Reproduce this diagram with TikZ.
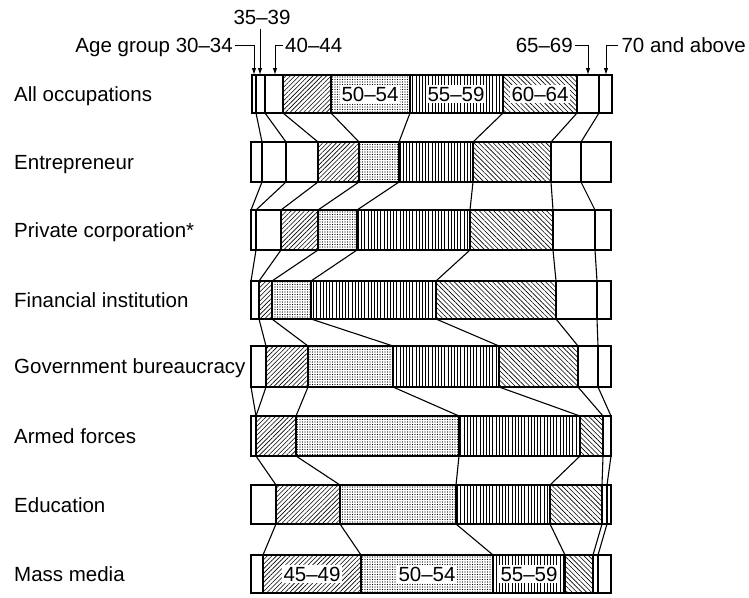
\documentclass[tikz,border=0pt]{standalone}
\usepackage{fontspec}
\setmainfont{Liberation Sans}
\usetikzlibrary{patterns.meta,arrows.meta}

\tikzset{
  bar/.style={line width=1.1pt},
  link/.style={line width=1.1pt},
  pointer/.style={line width=1pt, -{Latex[length=7pt,width=4.5pt]}},
  txt/.style={font=\fontsize{20.5}{24}\selectfont, inner sep=0pt},
  inlab/.style={txt, fill=white, inner sep=1.5pt},
  % age groups: seg2 = 30-34 ... seg10 = 70 and above
  seg2/.style={}, seg3/.style={}, seg4/.style={},
  seg5/.style={pattern={Lines[angle=45,distance=3.2pt,line width=0.6pt]}},
  seg6/.style={pattern={Dots[radius=0.6pt,distance=2.5pt]}},
  seg7/.style={pattern={Lines[angle=90,distance=3.2pt,line width=0.65pt]}},
  seg8/.style={pattern={Lines[angle=-45,distance=3.4pt,line width=0.6pt]}},
  seg9/.style={}, seg10/.style={}
}

\begin{document}
\begin{tikzpicture}[x=1pt, y=-1pt]
  \useasboundingbox (0,0) rectangle (749,597);

  % the bars: top / bottom / boundaries
  \foreach \ytop/\ybot/\xs in {
      75/113/{252,256,265,283,331,410,503,577,599,612},
      142/182/{251,262,286,318,359,399,473,551,581,611},
      210/250/{251,251,256,281,318,357,470,553,595,611},
      281/319/{251,251,251,259,272,311,436,556,597,611},
      346/387/{251,251,251,266,308,393,499,578,598,611},
      416/456/{251,251,256,256,296,459,580,603,611,611},
      485/524/{251,251,251,276,340,456,550,602,607,611},
      555/593/{251,251,251,263,361,493,565,593,598,611}}{
    \foreach \x [count=\i, remember=\x as \px (initially 0)] in \xs {
      \ifnum\i>1
        \path[seg\i] (\px,\ytop) rectangle (\x,\ybot);
        \draw[bar] (\px,\ytop) rectangle (\x,\ybot);
      \fi
    }
  }

  % lines joining the same age group from one bar to the next
  \foreach \ya/\yb/\pairs in {
      113/142/{256/262,265/286,283/318,331/359,410/399,503/473,577/551,599/581},
      182/210/{262/251,286/256,318/281,359/318,399/357,473/470,551/553,581/595},
      250/281/{256/251,281/259,318/272,357/311,470/436,553/556,595/597},
      319/346/{259/266,272/308,311/393,436/499,556/578,597/598},
      387/416/{251/256,266/256,308/296,393/459,499/580,578/603,598/611},
      456/485/{256/276,296/340,459/456,580/550,603/602,611/607},
      524/555/{276/263,340/361,456/493,550/565,602/593,607/598}}{
    \foreach \xa/\xb in \pairs {
      \draw[link] (\xa,\ya) -- (\xb,\yb);
    }
  }

  % row labels
  \node[txt, anchor=base west] (allocc) at (14,101.5) {All occupations};
  \node[txt, anchor=base west] (entre) at (14,169.5) {Entrepreneur};
  \node[txt, anchor=base west] (privcorp) at (14,237.5) {Private corporation*};
  \node[txt, anchor=base west] (fininst) at (14,307.5) {Financial institution};
  \node[txt, anchor=base west] (govbur) at (14,373.5) {Government bureaucracy};
  \node[txt, anchor=base west] (armed) at (14,443.5) {Armed forces};
  \node[txt, anchor=base west] (educ) at (14,512.5) {Education};
  \node[txt, anchor=base west] (massmed) at (14,581.5) {Mass media};

  % labels inside the first and last bar
  \node[inlab] (a5054) at (370,94) {50--54};
  \node[inlab] (a5559) at (456,94) {55--59};
  \node[inlab] (a6064) at (540,94) {60--64};
  \node[inlab] (m4549) at (312,574) {45--49};
  \node[inlab] (m5054) at (427,574) {50--54};
  \node[inlab] (m5559) at (529,574) {55--59};

  % age group keys above the first bar
  \node[txt, anchor=base] (g3539) at (262,24.5) {35--39};
  \node[txt, anchor=base east] (g3034) at (233,52.5) {Age group 30--34};
  \node[txt, anchor=base west] (g4044) at (285,52.5) {40--44};
  \node[txt, anchor=base east] (g6569) at (573,52.5) {65--69};
  \node[txt, anchor=base east] (g70) at (746,52.5) {70 and above};

  \coordinate (t3034) at (254,75);
  \coordinate (t3539) at (260,75);
  \coordinate (t4044) at (275,75);
  \coordinate (t6569) at (588,75);
  \coordinate (t70) at (606,75);

  \draw[pointer] ([shift={(2pt,7.5pt)}]g3034.base east) -| (t3034);
  \draw[pointer] ([yshift=-4pt]g3539.base -| t3539) -- (t3539);
  \draw[pointer] ([shift={(-2pt,7.5pt)}]g4044.base west) -| (t4044);
  \draw[pointer] ([shift={(2pt,7.5pt)}]g6569.base east) -| (t6569);
  \draw[pointer] ([shift={(-3pt,7.5pt)}]g70.base west) -| (t70);
\end{tikzpicture}
\end{document}
